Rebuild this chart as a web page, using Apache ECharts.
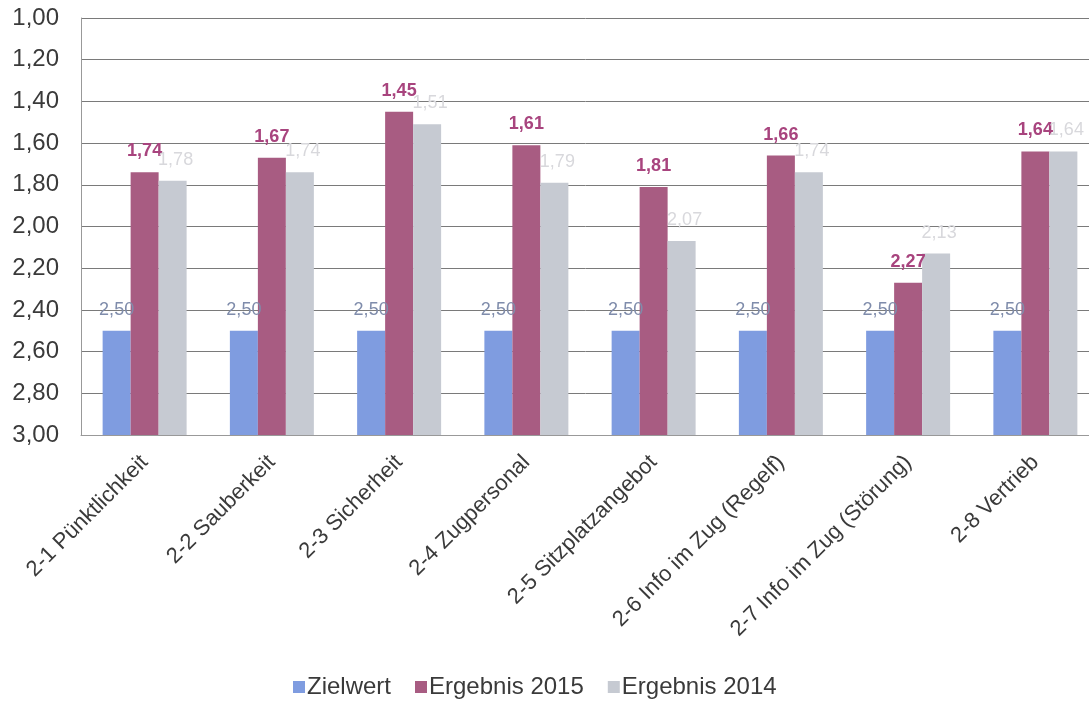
<!DOCTYPE html>
<html><head><meta charset="utf-8">
<script src="https://cdn.jsdelivr.net/npm/echarts@6/dist/echarts.min.js"></script>
<style>html,body{margin:0;padding:0;background:#fff}#c{width:1089px;height:701px}</style>
</head><body><div id="c"></div>
<script>
const categories = ['2-1 Pünktlichkeit','2-2 Sauberkeit','2-3 Sicherheit','2-4 Zugpersonal','2-5 Sitzplatzangebot','2-6 Info im Zug (Regelf)','2-7 Info im Zug (Störung)','2-8 Vertrieb'];
const zielwert = [2.50,2.50,2.50,2.50,2.50,2.50,2.50,2.50];
const ergebnis2015 = [1.74,1.67,1.45,1.61,1.81,1.66,2.27,1.64];
const ergebnis2014 = [1.78,1.74,1.51,1.79,2.07,1.74,2.13,1.64];
const fmt = v => v.toFixed(2).replace('.', ',');
const chart = echarts.init(document.getElementById('c'), null, {renderer:'canvas'});
chart.setOption({
  animation:false,
  textStyle:{fontFamily:'Liberation Sans, Arial, sans-serif'},
  grid:{left:81,width:1018,top:18,height:417,containLabel:false,outerBoundsMode:'none'},
  legend:{bottom:2,left:293,padding:0,icon:'rect',itemWidth:12,itemHeight:12,itemGap:24,
    textStyle:{fontSize:24,color:'#3a3a3a',padding:[0,0,0,-3]},
    data:['Zielwert','Ergebnis 2015','Ergebnis 2014']},
  xAxis:{type:'category',data:categories,
    axisLine:{lineStyle:{color:'#999'}},axisTick:{lineStyle:{color:'#999'},length:5},
    axisLabel:{rotate:45,fontSize:22,color:'#3a3a3a',interval:0,margin:24}},
  yAxis:{type:'value',inverse:true,min:1,max:3,interval:0.2,startValue:3,
    axisLine:{show:true,lineStyle:{color:'#999'}},
    splitLine:{lineStyle:{color:'#7a7a7a',width:1}},
    axisLabel:{fontSize:24,color:'#3a3a3a',margin:22,formatter:v=>fmt(v)}},
  series:[
    {name:'Zielwert',type:'bar',data:zielwert,barGap:'0%',barCategoryGap:'34%',
      itemStyle:{color:'#7f9ce0'},
      label:{show:true,position:'top',distance:12,fontSize:18,color:'#7f8cab',formatter:p=>fmt(p.value)}},
    {name:'Ergebnis 2015',type:'bar',data:ergebnis2015,
      itemStyle:{color:'#a85c82'},
      label:{show:true,position:'top',distance:12,fontSize:18,fontWeight:'bold',color:'#a8447e',formatter:p=>fmt(p.value)}},
    {name:'Ergebnis 2014',type:'bar',data:ergebnis2014,
      itemStyle:{color:'#c6cad2'},
      label:{show:true,position:'top',distance:12,fontSize:18,color:'#d8d8dc',formatter:p=>fmt(p.value),offset:[3,0]}}
  ]
});
</script></body></html>
